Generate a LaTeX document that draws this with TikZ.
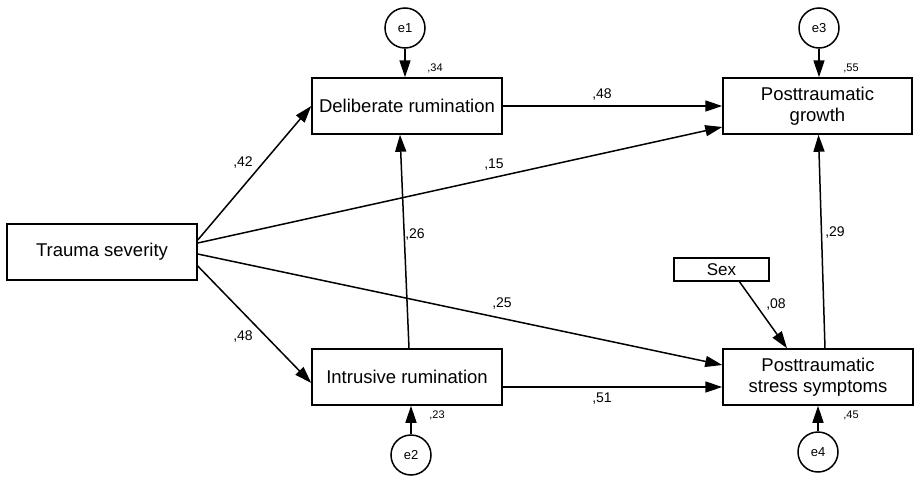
\documentclass[tikz,border=0pt]{standalone}
\usepackage{fontspec}
\setmainfont{Liberation Sans}
\usetikzlibrary{arrows.meta}
\begin{document}
\begin{tikzpicture}[x=1pt, y=-1pt, line width=1.5pt,
  var/.style={draw, minimum width=190pt, minimum height=56pt, inner sep=0pt, align=center, font=\fontsize{18.5}{21}\selectfont},
  err/.style={draw, circle, minimum size=40pt, inner sep=0pt, font=\fontsize{13}{15}\selectfont},
  coef/.style={inner sep=0pt, font=\fontsize{14}{16}\selectfont},
  rsq/.style={inner sep=0pt, font=\fontsize{11}{13}\selectfont},
  arr/.style={-{Triangle[length=17pt,width=11pt]}}]
\useasboundingbox (0,0) rectangle (914,477);
\node[var] (ts) at (102,252) {Trauma severity};
\node[var] (dr) at (407,106) {Deliberate rumination};
\node[var] (ir) at (407,377) {Intrusive rumination};
\node[var, minimum width=189pt] (ptg) at (817.5,106) {Posttraumatic\\growth};
\node[var] (pts) at (818,377) {Posttraumatic\\stress symptoms};
\node[draw, minimum width=95pt, minimum height=23pt, inner sep=0pt, font=\fontsize{17}{19}\selectfont] (sex) at (721.5,269.5) {Sex};
\node[err] (e1) at (405,28) {e1};
\node[err] (e2) at (411,455) {e2};
\node[err] (e3) at (819,28) {e3};
\node[err] (e4) at (818,452) {e4};
% residual arrows
\draw[arr] (e1) -- (e1 |- dr.north);
\draw[arr] (e2) -- (e2 |- ir.south);
\draw[arr] (e3) -- (e3 |- ptg.north);
\draw[arr] (e4) -- (e4 |- pts.south);
% paths
\draw[arr] ([yshift=12pt]ts.east) -- (dr.west);
\draw[arr] ([yshift=9pt]ts.east) -- ([yshift=-21pt]ptg.west);
\draw[arr] ([yshift=-2pt]ts.east) -- ([yshift=12pt]pts.west);
\draw[arr] ([yshift=-14pt]ts.east) -- ([yshift=-6pt]ir.west);
\draw[arr] (dr.east) -- (ptg.west);
\draw[arr] ([yshift=-10pt]ir.east) -- ([yshift=-10pt]pts.west);
\draw[arr] ([xshift=2pt]ir.north) -- ([xshift=-7pt]dr.south);
\draw[arr] ([xshift=7pt]pts.north) -- ([xshift=1pt]ptg.south);
\draw[arr] ([xshift=18pt]sex.south) -- ([xshift=-31pt]pts.north);
% estimates
\node[coef] (c1) at (243,163) {,42};
\node[coef] (c2) at (494,165) {,15};
\node[coef] (c3) at (602,95) {,48};
\node[coef] (c4) at (415,235) {,26};
\node[coef] (c5) at (835,233) {,29};
\node[coef] (c6) at (502,304) {,25};
\node[coef] (c7) at (776,305) {,08};
\node[coef] (c8) at (243,337) {,48};
\node[coef] (c9) at (602,399) {,51};
\node[rsq] (r1) at (435,68) {,34};
\node[rsq] (r2) at (851,68) {,55};
\node[rsq] (r3) at (437,415) {,23};
\node[rsq] (r4) at (851,415) {,45};
\end{tikzpicture}
\end{document}
